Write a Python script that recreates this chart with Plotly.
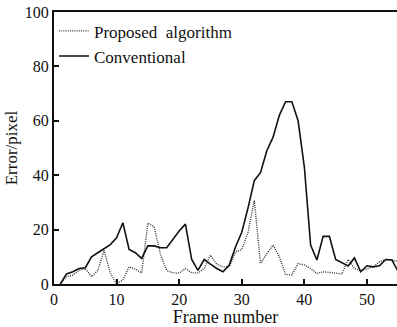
import plotly.graph_objects as go

frames = list(range(1, 56))
proposed = [0, 2.7, 3.3, 5, 5.7, 2.7, 5, 12.4, 4, 0,
            1.5, 6.3, 5.4, 4.1, 22.4, 21, 11, 5, 4.1, 4,
            5.7, 4.1, 4.1, 5.7, 10.6, 7.3, 6.3, 6.3, 11.8, 12.7,
            19, 30.7, 7.5, 11.2, 14.3, 10, 3.5, 3.3, 7.5, 7,
            5.7, 3.9, 4.5, 4.3, 4.1, 3.7, 9, 5.7, 4.9, 5.7,
            6.3, 8.2, 9, 8.8, 8.2]
conventional = [0, 3.7, 4.5, 5.7, 6, 10, 11.5, 13, 14.5, 17,
                22.5, 12.7, 11.5, 9.4, 14, 14, 13.3, 13.3, 16.5, 19.5,
                22, 9, 5, 9, 7.3, 5.7, 4.5, 7, 13.6, 19,
                28, 38, 41, 49, 54, 62, 67, 67, 60, 43,
                14.3, 8.8, 17.5, 17.5, 9, 7.8, 6.6, 9.6, 4.5, 6.7,
                6.3, 6.7, 9, 8.8, 4.5]
x_ticks = [0, 10, 20, 30, 40, 50]
y_ticks = [0, 20, 40, 60, 80, 100]

font_family = "Liberation Serif"

fig = go.Figure()
fig.add_trace(go.Scatter(x=frames, y=proposed, mode="lines", name="Proposed  algorithm",
                         line=dict(color="#333333", width=1.4, dash="1px,1.2px")))
fig.add_trace(go.Scatter(x=frames, y=conventional, mode="lines", name="Conventional",
                         line=dict(color="#111111", width=1.6)))

fig.update_layout(
    width=397, height=327,
    margin=dict(l=54, r=0, t=12, b=43),
    paper_bgcolor="white", plot_bgcolor="white",
    font=dict(family=font_family, size=16, color="#111111"),
    showlegend=True,
    legend=dict(x=0.0, y=0.995, xanchor="left", yanchor="top",
                bgcolor="rgba(0,0,0,0)", font=dict(size=17, family=font_family),
                tracegroupgap=0, itemwidth=30),
    xaxis=dict(range=[0, 54.8], tickvals=x_ticks, ticks="inside", ticklen=5,
               tickwidth=1.5, tickcolor="#111111",
               showline=True, linecolor="#111111", linewidth=2, mirror=True,
               showgrid=False, zeroline=False,
               tickfont=dict(size=16, family=font_family),
               title=dict(text="Frame number", font=dict(size=18, family=font_family), standoff=4)),
    yaxis=dict(range=[0, 100], tickvals=y_ticks, ticks="inside", ticklen=5,
               tickwidth=1.5, tickcolor="#111111",
               showline=True, linecolor="#111111", linewidth=2, mirror=False,
               showgrid=False, zeroline=False,
               tickfont=dict(size=16, family=font_family),
               title=dict(text="Error/pixel", font=dict(size=17, family=font_family), standoff=3)),
)

fig.write_html("out.html", config={"displayModeBar": False},
               post_script="document.body.style.margin='0px';document.body.style.padding='0px';")
